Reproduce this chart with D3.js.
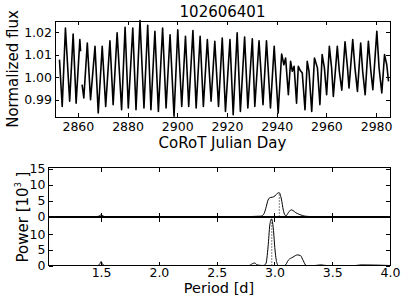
<!DOCTYPE html>
<html>
<head>
<meta charset="utf-8">
<script src="https://cdn.jsdelivr.net/npm/d3@7"></script>
<style>
  body { margin: 0; background: #fff; }
  svg { display: block; font-family: "DejaVu Sans", sans-serif; }
</style>
</head>
<body>
<svg id="chart" width="407" height="305"></svg>
<script>
"use strict";

/* star identifier used as the title */
const starId = "102606401";

/* light curve (extrema of each cycle, null = gap) */
const lcDay = [
  2852.6, 2853.7, 2855.0, 2856.7, 2858.1, 2859.3, 2860.8, 2861.1, 2861.4, 2861.7,
  2862.4, 2863.8, 2865.1, 2866.9, 2868.2, 2869.8, 2871.2, 2872.9, 2874.2, 2875.8,
  2877.6, 2879.0, 2880.3, 2882.1, 2883.4, 2885.0, 2886.6, 2888.1, 2889.4, 2891.0,
  2892.4, 2894.1, 2895.5, 2897.1, 2898.7, 2900.2, 2901.8, 2903.3, 2904.6, 2906.3,
  2907.6, 2909.2, 2910.5, 2912.1, 2913.6, 2915.1, 2916.6, 2918.1, 2919.4, 2921.2,
  2922.5, 2924.1, 2925.4, 2927.1, 2928.4, 2930.2, 2931.2, 2932.9, 2934.5, 2935.9,
  2937.5, 2939.0, 2940.6, 2942.0, 2942.9, 2943.6, 2944.7, 2945.6, 2946.3, 2947.0,
  2948.0, 2948.7, 2949.5, 2950.3, 2951.4, 2952.3, 2953.0, 2954.1, 2955.2, 2956.4,
  2957.4, 2958.3, 2959.2, 2960.1, 2961.2, 2962.1, 2962.8, 2964.4, 2965.2, 2966.2,
  2967.5, 2968.5, 2969.1, 2970.6, 2971.5, 2972.5, 2973.8, 2974.6, 2975.6, 2976.9,
  2977.9, 2978.7, 2980.3, 2981.2, 2982.3, 2983.4, 2984.3, 2985.0
];
const lcFlux = [
  1.0079, 0.9870, 1.0220, 0.9893, 1.0193, 0.9885, 1.0168, 1.0116, null, 0.9967,
  0.9908, 1.0153, 0.9900, 1.0138, 0.9841, 1.0138, 0.9870, 1.0163, 0.9878, 1.0198,
  0.9855, 1.0223, 0.9863, 1.0220, 0.9855, 1.0253, 0.9863, 1.0232, 0.9855, 1.0205,
  0.9848, 1.0220, 0.9863, 1.0190, 0.9826, 1.0212, 0.9870, 1.0183, 0.9870, 1.0208,
  0.9863, 1.0183, 0.9870, 1.0168, 0.9893, 1.0160, 0.9870, 1.0175, 0.9848, 1.0168,
  0.9833, 1.0198, 0.9848, 1.0179, 0.9863, 1.0172, 0.9870, 1.0163, 0.9878, 1.0163,
  0.9863, 1.0138, 0.9841, 1.0104, 1.0056, 1.0086, 0.9922, 1.0071, 1.0027, 1.0049,
  0.9885, 1.0049, 1.0030, 1.0019, 0.9855, 1.0071, 1.0027, 0.9848, 1.0086, 1.0042,
  0.9878, 1.0101, 1.0042, 0.9922, 1.0138, 1.0042, 0.9915, 1.0138, 1.0027, 0.9943,
  1.0158, 1.0042, 0.9952, 1.0168, 1.0042, 0.9937, 1.0153, 1.0027, 0.9922, 1.0160,
  1.0027, 0.9945, 1.0205, 1.0042, 0.9930, 1.0101, 1.0056, 0.9982
];
const lcDayTicks  = [2860, 2880, 2900, 2920, 2940, 2960, 2980];
const lcFluxTicks = [0.99, 1.00, 1.01, 1.02];

/* periodograms (power in units of 10^3) */
const pgPeriodA = [1.045, 1.47, 1.5, 1.53, 2.80, 2.88, 2.905, 2.925, 2.945, 2.965, 2.985,
                   3.005, 3.025, 3.042, 3.06, 3.077, 3.09, 3.10, 3.12, 3.145, 3.16, 3.185,
                   3.22, 3.265, 3.30, 4.0];
const pgPowerA  = [0, 0, 0.5, 0, 0, 0.1, 0.6, 2.5, 5.2, 6.0, 6.1,
                   6.5, 7.3, 7.5, 5.5, 2.0, 0.5, 0.2, 1.2, 2.1, 1.9, 1.2,
                   0.6, 0.1, 0, 0];
const pgPeriodB = [1.045, 1.47, 1.49, 1.5, 1.51, 1.53, 2.78, 2.81, 2.83, 2.85, 2.90, 2.925,
                   2.945, 2.96, 2.975, 2.99, 3.005, 3.02, 3.035, 3.09, 3.12, 3.16, 3.2,
                   3.225, 3.25, 3.275, 3.35, 3.4, 3.45, 3.7, 3.75, 4.0];
const pgPowerB  = [0, 0, 0.6, 1.3, 0.6, 0, 0, 0.6, 0.8, 0.2, 0, 0.5,
                   6.0, 13, 15, 12, 5, 1, 0, 0, 1.7, 2.7, 3.4,
                   3.2, 1.5, 0, 0, 0.2, 0, 0, 0.2, 0];
const peakPeriods = [3.042, 2.977];
const peakPowers  = [7.5, 15];

const periodTicks = [1.5, 2.0, 2.5, 3.0, 3.5, 4.0];
const powerTicksA = [0, 5, 10, 15];
const powerTicksB = [0, 5, 10];

const svg = d3.select("#chart");

/* Draws a boxed axes with inward ticks on every side */
function draw_frame(g, x, y, xTicks, yTicks, xFmt, yFmt, xLabels, xPad) {
  const [x0, x1] = x.range(), [y0, y1] = y.range();

  g.append("g").attr("transform", `translate(0,${y0})`)
      .call(d3.axisBottom(x).tickValues(xTicks).tickSize(-4).tickPadding(xPad)
          .tickFormat(xLabels ? xFmt : ""));
  g.append("g").attr("transform", `translate(0,${y1})`)
      .call(d3.axisTop(x).tickValues(xTicks).tickSize(-4).tickFormat(""));
  g.append("g").attr("transform", `translate(${x0},0)`)
      .call(d3.axisLeft(y).tickValues(yTicks).tickSize(-4).tickPadding(3).tickFormat(yFmt));
  g.append("g").attr("transform", `translate(${x1},0)`)
      .call(d3.axisRight(y).tickValues(yTicks).tickSize(-4).tickFormat(""));

  g.selectAll(".domain").remove();
  g.selectAll(".tick line").attr("stroke", "#000").attr("shape-rendering", "crispEdges");
  g.selectAll(".tick text").attr("font-size", 12.5).attr("fill", "#000")
      .attr("font-family", "DejaVu Sans, sans-serif");

  g.append("rect")
      .attr("x", x0).attr("y", y1)
      .attr("width", x1 - x0).attr("height", y0 - y1)
      .attr("fill", "none").attr("stroke", "#000")
      .attr("shape-rendering", "crispEdges");
}

/* Light curve panel */
function render_light_curve() {
  const x = d3.scaleLinear().domain([2850.8, 2985.6]).range([55, 390]);
  const y = d3.scaleLinear().domain([0.9823, 1.0251]).range([117, 21]);
  const g = svg.append("g");

  const line = d3.line()
      .defined(i => lcFlux[i] !== null)
      .x(i => x(lcDay[i]))
      .y(i => y(lcFlux[i]));

  g.append("path")
      .attr("d", line(d3.range(lcDay.length)))
      .attr("fill", "none").attr("stroke", "#000")
      .attr("stroke-width", 1.6).attr("stroke-linejoin", "round");

  draw_frame(g, x, y, lcDayTicks, lcFluxTicks, d3.format("d"), d3.format(".2f"), true, 5);

  svg.append("text").text(starId)
      .attr("x", 222.5).attr("y", 17).attr("text-anchor", "middle").attr("font-size", 15);
  svg.append("text").text("CoRoT Julian Day")
      .attr("x", 222.5).attr("y", 148).attr("text-anchor", "middle").attr("font-size", 15);
  svg.append("text").text("Normalized flux")
      .attr("transform", "translate(18,69) rotate(-90)")
      .attr("text-anchor", "middle").attr("font-size", 15);
}

/* One periodogram panel */
function render_periodogram(periods, powers, peakIdx, top, bottom, yTicks, xLabels) {
  const x = d3.scaleLinear().domain([1.045, 4.0]).range([48.5, 390]);
  const y = d3.scaleLinear().domain([0, 15.45]).range([bottom, top]);
  const g = svg.append("g");

  const line = d3.line()
      .x(i => x(periods[i]))
      .y(i => y(powers[i]))
      .curve(d3.curveMonotoneX);

  g.append("path")
      .attr("d", line(d3.range(periods.length)))
      .attr("fill", "none").attr("stroke", "#000").attr("stroke-width", 1);

  g.append("line")
      .attr("x1", x(peakPeriods[peakIdx])).attr("x2", x(peakPeriods[peakIdx]))
      .attr("y1", y(0)).attr("y2", y(peakPowers[peakIdx]))
      .attr("stroke", "#000").attr("stroke-width", 1).attr("stroke-dasharray", "1,2");

  draw_frame(g, x, y, periodTicks, yTicks, d3.format(".1f"), d3.format("d"), xLabels, 3);
}

render_light_curve();
render_periodogram(pgPeriodA, pgPowerA, 0, 167.5, 216.5, powerTicksA, false);
render_periodogram(pgPeriodB, pgPowerB, 1, 217.5, 265.5, powerTicksB, true);

/* shared labels of the two lower panels */
const powerLabel = svg.append("text")
    .attr("transform", "translate(28,217) rotate(-90)")
    .attr("text-anchor", "middle").attr("font-size", 15);
powerLabel.append("tspan").text("Power [10");
powerLabel.append("tspan").text("3").attr("font-size", 8).attr("dy", -7);
powerLabel.append("tspan").text(" ]").attr("dy", 7);

svg.append("text").text("Period [d]")
    .attr("x", 219).attr("y", 293).attr("text-anchor", "middle").attr("font-size", 14.5);
</script>
</body>
</html>
